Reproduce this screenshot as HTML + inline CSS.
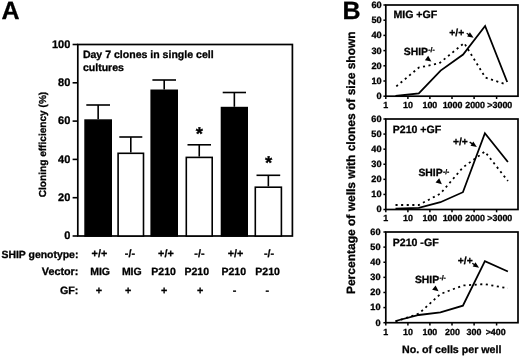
<!DOCTYPE html>
<html lang="en"><head><meta charset="utf-8"><title>Figure</title>
<style>html,body{margin:0;padding:0;background:#fff;}body{width:520px;height:356px;overflow:hidden;}svg{display:block;}svg{filter:grayscale(1);}text{font-family:"Liberation Sans", Arial, Helvetica, sans-serif;font-weight:bold;fill:#000;stroke:#000;stroke-width:0.3px;text-rendering:geometricPrecision;}</style>
</head><body>
<svg width="520" height="356" viewBox="0 0 520 356">
<rect width="520" height="356" fill="#fff"/>
<text x="1.6" y="19.2" font-size="25">A</text>
<rect x="77.80" y="44.50" width="214.60" height="191.50" fill="none" stroke="#000" stroke-width="1.7"/>
<line x1="72.60" y1="236.00" x2="77.80" y2="236.00" stroke="#000" stroke-width="1.6"/>
<text x="70.3" y="239.30" font-size="11" text-anchor="end">0</text>
<line x1="72.60" y1="197.70" x2="77.80" y2="197.70" stroke="#000" stroke-width="1.6"/>
<text x="70.3" y="201.00" font-size="11" text-anchor="end">20</text>
<line x1="72.60" y1="159.40" x2="77.80" y2="159.40" stroke="#000" stroke-width="1.6"/>
<text x="70.3" y="162.70" font-size="11" text-anchor="end">40</text>
<line x1="72.60" y1="121.10" x2="77.80" y2="121.10" stroke="#000" stroke-width="1.6"/>
<text x="70.3" y="124.40" font-size="11" text-anchor="end">60</text>
<line x1="72.60" y1="82.80" x2="77.80" y2="82.80" stroke="#000" stroke-width="1.6"/>
<text x="70.3" y="86.10" font-size="11" text-anchor="end">80</text>
<line x1="72.60" y1="44.50" x2="77.80" y2="44.50" stroke="#000" stroke-width="1.6"/>
<text x="70.3" y="47.80" font-size="11" text-anchor="end">100</text>
<line x1="98.15" y1="105.00" x2="98.15" y2="119.30" stroke="#000" stroke-width="1.6"/>
<line x1="86.30" y1="105.00" x2="110.00" y2="105.00" stroke="#000" stroke-width="1.6"/>
<rect x="85.10" y="120.10" width="26.10" height="115.90" fill="#000" stroke="#000" stroke-width="1.6"/>
<line x1="130.80" y1="137.00" x2="130.80" y2="152.50" stroke="#000" stroke-width="1.6"/>
<line x1="119.30" y1="137.00" x2="142.30" y2="137.00" stroke="#000" stroke-width="1.6"/>
<rect x="118.10" y="153.30" width="25.40" height="82.70" fill="#fff" stroke="#000" stroke-width="1.6"/>
<line x1="164.20" y1="80.00" x2="164.20" y2="89.50" stroke="#000" stroke-width="1.6"/>
<line x1="152.40" y1="80.00" x2="176.00" y2="80.00" stroke="#000" stroke-width="1.6"/>
<rect x="151.20" y="90.30" width="26.00" height="145.70" fill="#000" stroke="#000" stroke-width="1.6"/>
<line x1="199.25" y1="144.80" x2="199.25" y2="156.60" stroke="#000" stroke-width="1.6"/>
<line x1="187.50" y1="144.80" x2="211.00" y2="144.80" stroke="#000" stroke-width="1.6"/>
<rect x="186.30" y="157.40" width="25.90" height="78.60" fill="#fff" stroke="#000" stroke-width="1.6"/>
<line x1="234.35" y1="92.50" x2="234.35" y2="106.80" stroke="#000" stroke-width="1.6"/>
<line x1="222.70" y1="92.50" x2="246.00" y2="92.50" stroke="#000" stroke-width="1.6"/>
<rect x="221.50" y="107.60" width="25.70" height="128.40" fill="#000" stroke="#000" stroke-width="1.6"/>
<line x1="268.35" y1="175.30" x2="268.35" y2="186.40" stroke="#000" stroke-width="1.6"/>
<line x1="256.50" y1="175.30" x2="280.20" y2="175.30" stroke="#000" stroke-width="1.6"/>
<rect x="255.30" y="187.20" width="26.10" height="48.80" fill="#fff" stroke="#000" stroke-width="1.6"/>
<text x="199.4" y="139.6" font-size="18.5" text-anchor="middle">*</text>
<text x="268.5" y="169.4" font-size="18.5" text-anchor="middle">*</text>
<text x="82.9" y="58.4" font-size="10.55">Day 7 clones in single cell</text>
<text x="82.9" y="70.6" font-size="10.55">cultures</text>
<text transform="translate(46.4,144.5) rotate(-90)" font-size="10.1" text-anchor="middle">Cloning efficiency (%)</text>
<text x="78.4" y="258.00" font-size="10.45" text-anchor="end">SHIP genotype:</text>
<text x="99.40" y="257.20" font-size="10.8" text-anchor="middle">+/+</text>
<text x="129.90" y="257.20" font-size="10.8" text-anchor="middle">-/-</text>
<text x="165.90" y="257.20" font-size="10.8" text-anchor="middle">+/+</text>
<text x="199.40" y="257.20" font-size="10.8" text-anchor="middle">-/-</text>
<text x="235.60" y="257.20" font-size="10.8" text-anchor="middle">+/+</text>
<text x="269.10" y="257.20" font-size="10.8" text-anchor="middle">-/-</text>
<text x="78.4" y="275.20" font-size="10.8" text-anchor="end">Vector:</text>
<text x="100.10" y="275.20" font-size="10.5" text-anchor="middle">MIG</text>
<text x="131.80" y="275.20" font-size="10.5" text-anchor="middle">MIG</text>
<text x="163.60" y="275.20" font-size="10.5" text-anchor="middle">P210</text>
<text x="196.80" y="275.20" font-size="10.5" text-anchor="middle">P210</text>
<text x="233.80" y="275.20" font-size="10.5" text-anchor="middle">P210</text>
<text x="267.60" y="275.20" font-size="10.5" text-anchor="middle">P210</text>
<text x="78.4" y="293.60" font-size="10.7" text-anchor="end">GF:</text>
<text x="99.00" y="293.60" font-size="10.8" text-anchor="middle">+</text>
<text x="128.20" y="293.60" font-size="10.8" text-anchor="middle">+</text>
<text x="164.20" y="293.60" font-size="10.8" text-anchor="middle">+</text>
<text x="200.10" y="293.60" font-size="10.8" text-anchor="middle">+</text>
<text x="234.60" y="293.60" font-size="10.8" text-anchor="middle">-</text>
<text x="267.40" y="293.60" font-size="10.8" text-anchor="middle">-</text>
<text x="342.4" y="19.2" font-size="25">B</text>
<text transform="translate(354.8,162.7) rotate(-90)" font-size="12" text-anchor="middle">Percentage of wells with clones of size shown</text>
<rect x="385.80" y="5.00" width="132.20" height="91.20" fill="none" stroke="#000" stroke-width="1.7"/>
<line x1="383.40" y1="96.20" x2="385.80" y2="96.20" stroke="#000" stroke-width="1.5"/>
<text x="381.70" y="99.10" font-size="9.2" text-anchor="end">0</text>
<line x1="383.40" y1="81.00" x2="385.80" y2="81.00" stroke="#000" stroke-width="1.5"/>
<text x="381.70" y="83.90" font-size="9.2" text-anchor="end">10</text>
<line x1="383.40" y1="65.80" x2="385.80" y2="65.80" stroke="#000" stroke-width="1.5"/>
<text x="381.70" y="68.70" font-size="9.2" text-anchor="end">20</text>
<line x1="383.40" y1="50.60" x2="385.80" y2="50.60" stroke="#000" stroke-width="1.5"/>
<text x="381.70" y="53.50" font-size="9.2" text-anchor="end">30</text>
<line x1="383.40" y1="35.40" x2="385.80" y2="35.40" stroke="#000" stroke-width="1.5"/>
<text x="381.70" y="38.30" font-size="9.2" text-anchor="end">40</text>
<line x1="383.40" y1="20.20" x2="385.80" y2="20.20" stroke="#000" stroke-width="1.5"/>
<text x="381.70" y="23.10" font-size="9.2" text-anchor="end">50</text>
<line x1="383.40" y1="5.00" x2="385.80" y2="5.00" stroke="#000" stroke-width="1.5"/>
<text x="381.70" y="7.90" font-size="9.2" text-anchor="end">60</text>
<line x1="385.80" y1="96.20" x2="385.80" y2="99.00" stroke="#000" stroke-width="1.5"/>
<text x="385.70" y="108.20" font-size="8.9" text-anchor="middle">1</text>
<line x1="407.90" y1="96.20" x2="407.90" y2="99.00" stroke="#000" stroke-width="1.5"/>
<text x="407.90" y="108.20" font-size="8.9" text-anchor="middle">10</text>
<line x1="429.90" y1="96.20" x2="429.90" y2="99.00" stroke="#000" stroke-width="1.5"/>
<text x="429.90" y="108.20" font-size="8.9" text-anchor="middle">100</text>
<line x1="452.00" y1="96.20" x2="452.00" y2="99.00" stroke="#000" stroke-width="1.5"/>
<text x="452.50" y="108.20" font-size="8.9" text-anchor="middle">1000</text>
<line x1="474.10" y1="96.20" x2="474.10" y2="99.00" stroke="#000" stroke-width="1.5"/>
<text x="475.10" y="108.20" font-size="8.9" text-anchor="middle">2000</text>
<line x1="496.60" y1="96.20" x2="496.60" y2="99.00" stroke="#000" stroke-width="1.5"/>
<text x="499.80" y="108.20" font-size="8.9" text-anchor="middle">&gt;3000</text>
<polyline fill="none" stroke="#000" stroke-width="1.8" stroke-linejoin="miter" points="395.5,96.0 418.8,93.4 440.6,70.6 463.1,54.6 485.1,26.0 507.2,82.0"/>
<polyline fill="none" stroke="#000" stroke-width="1.8" stroke-dasharray="2.1 3.5" points="396.3,86.4 418.8,67.6 439.3,63.3 464.2,43.0 485.3,77.5 506.8,84.6"/>
<text x="393.40" y="18.10" font-size="10.6">MIG +GF</text>
<text x="403.80" y="54.80" font-size="10.4">SHIP<tspan font-size="6.8" dy="-2.6" dx="0.3">-/-</tspan></text>
<polygon points="431.40,61.50 424.90,60.23 428.20,55.70" fill="#000"/>
<text x="449.30" y="36.00" font-size="10.3">+/+</text>
<line x1="466.70" y1="33.30" x2="469.38" y2="35.01" stroke="#000" stroke-width="1.3"/>
<polygon points="473.60,37.70 467.20,36.58 469.89,32.37" fill="#000"/>
<rect x="385.80" y="119.00" width="132.20" height="90.50" fill="none" stroke="#000" stroke-width="1.7"/>
<line x1="383.40" y1="209.50" x2="385.80" y2="209.50" stroke="#000" stroke-width="1.5"/>
<text x="381.60" y="212.40" font-size="9.2" text-anchor="end">0</text>
<line x1="383.40" y1="194.42" x2="385.80" y2="194.42" stroke="#000" stroke-width="1.5"/>
<text x="381.60" y="197.32" font-size="9.2" text-anchor="end">10</text>
<line x1="383.40" y1="179.33" x2="385.80" y2="179.33" stroke="#000" stroke-width="1.5"/>
<text x="381.60" y="182.23" font-size="9.2" text-anchor="end">20</text>
<line x1="383.40" y1="164.25" x2="385.80" y2="164.25" stroke="#000" stroke-width="1.5"/>
<text x="381.60" y="167.15" font-size="9.2" text-anchor="end">30</text>
<line x1="383.40" y1="149.17" x2="385.80" y2="149.17" stroke="#000" stroke-width="1.5"/>
<text x="381.60" y="152.07" font-size="9.2" text-anchor="end">40</text>
<line x1="383.40" y1="134.08" x2="385.80" y2="134.08" stroke="#000" stroke-width="1.5"/>
<text x="381.60" y="136.98" font-size="9.2" text-anchor="end">50</text>
<line x1="383.40" y1="119.00" x2="385.80" y2="119.00" stroke="#000" stroke-width="1.5"/>
<text x="381.60" y="121.90" font-size="9.2" text-anchor="end">60</text>
<line x1="385.80" y1="209.50" x2="385.80" y2="212.30" stroke="#000" stroke-width="1.5"/>
<text x="385.70" y="221.30" font-size="8.9" text-anchor="middle">1</text>
<line x1="407.90" y1="209.50" x2="407.90" y2="212.30" stroke="#000" stroke-width="1.5"/>
<text x="407.90" y="221.30" font-size="8.9" text-anchor="middle">10</text>
<line x1="429.90" y1="209.50" x2="429.90" y2="212.30" stroke="#000" stroke-width="1.5"/>
<text x="429.90" y="221.30" font-size="8.9" text-anchor="middle">100</text>
<line x1="452.00" y1="209.50" x2="452.00" y2="212.30" stroke="#000" stroke-width="1.5"/>
<text x="452.50" y="221.30" font-size="8.9" text-anchor="middle">1000</text>
<line x1="474.10" y1="209.50" x2="474.10" y2="212.30" stroke="#000" stroke-width="1.5"/>
<text x="475.10" y="221.30" font-size="8.9" text-anchor="middle">2000</text>
<line x1="496.60" y1="209.50" x2="496.60" y2="212.30" stroke="#000" stroke-width="1.5"/>
<text x="499.80" y="221.30" font-size="8.9" text-anchor="middle">&gt;3000</text>
<polyline fill="none" stroke="#000" stroke-width="1.8" stroke-linejoin="miter" points="395.5,208.6 418.8,207.8 440.4,202.2 462.9,192.2 484.9,133.3 507.9,162.0"/>
<polyline fill="none" stroke="#000" stroke-width="1.8" stroke-dasharray="2.1 3.5" points="395.5,205.0 418.8,205.0 440.4,193.6 462.9,167.4 484.9,151.6 507.9,181.0"/>
<text x="392.70" y="133.20" font-size="10.6">P210 +GF</text>
<text x="418.40" y="176.30" font-size="10.4">SHIP<tspan font-size="6.8" dy="-2.6" dx="0.3">-/-</tspan></text>
<polygon points="441.90,184.30 435.54,182.47 439.22,178.25" fill="#000"/>
<text x="453.00" y="144.60" font-size="10.3">+/+</text>
<line x1="469.70" y1="142.10" x2="472.74" y2="144.13" stroke="#000" stroke-width="1.3"/>
<polygon points="476.90,146.90 470.52,145.65 473.29,141.49" fill="#000"/>
<rect x="385.80" y="232.00" width="132.20" height="90.70" fill="none" stroke="#000" stroke-width="1.7"/>
<line x1="383.40" y1="322.70" x2="385.80" y2="322.70" stroke="#000" stroke-width="1.5"/>
<text x="380.60" y="325.60" font-size="9.2" text-anchor="end">0</text>
<line x1="383.40" y1="307.58" x2="385.80" y2="307.58" stroke="#000" stroke-width="1.5"/>
<text x="380.60" y="310.48" font-size="9.2" text-anchor="end">10</text>
<line x1="383.40" y1="292.47" x2="385.80" y2="292.47" stroke="#000" stroke-width="1.5"/>
<text x="380.60" y="295.37" font-size="9.2" text-anchor="end">20</text>
<line x1="383.40" y1="277.35" x2="385.80" y2="277.35" stroke="#000" stroke-width="1.5"/>
<text x="380.60" y="280.25" font-size="9.2" text-anchor="end">30</text>
<line x1="383.40" y1="262.23" x2="385.80" y2="262.23" stroke="#000" stroke-width="1.5"/>
<text x="380.60" y="265.13" font-size="9.2" text-anchor="end">40</text>
<line x1="383.40" y1="247.12" x2="385.80" y2="247.12" stroke="#000" stroke-width="1.5"/>
<text x="380.60" y="250.02" font-size="9.2" text-anchor="end">50</text>
<line x1="383.40" y1="232.00" x2="385.80" y2="232.00" stroke="#000" stroke-width="1.5"/>
<text x="380.60" y="234.90" font-size="9.2" text-anchor="end">60</text>
<line x1="385.80" y1="322.70" x2="385.80" y2="325.50" stroke="#000" stroke-width="1.5"/>
<text x="385.60" y="334.50" font-size="8.9" text-anchor="middle">1</text>
<line x1="407.90" y1="322.70" x2="407.90" y2="325.50" stroke="#000" stroke-width="1.5"/>
<text x="407.90" y="334.50" font-size="8.9" text-anchor="middle">10</text>
<line x1="429.90" y1="322.70" x2="429.90" y2="325.50" stroke="#000" stroke-width="1.5"/>
<text x="429.90" y="334.50" font-size="8.9" text-anchor="middle">100</text>
<line x1="452.00" y1="322.70" x2="452.00" y2="325.50" stroke="#000" stroke-width="1.5"/>
<text x="452.50" y="334.50" font-size="8.9" text-anchor="middle">200</text>
<line x1="474.10" y1="322.70" x2="474.10" y2="325.50" stroke="#000" stroke-width="1.5"/>
<text x="474.00" y="334.50" font-size="8.9" text-anchor="middle">300</text>
<line x1="496.60" y1="322.70" x2="496.60" y2="325.50" stroke="#000" stroke-width="1.5"/>
<text x="495.70" y="334.50" font-size="8.9" text-anchor="middle">&gt;400</text>
<polyline fill="none" stroke="#000" stroke-width="1.8" stroke-linejoin="miter" points="395.5,321.0 418.8,315.0 440.4,312.3 462.9,305.7 484.9,261.1 507.9,271.5"/>
<polyline fill="none" stroke="#000" stroke-width="1.8" stroke-dasharray="2.1 3.5" points="395.5,321.5 418.8,313.7 440.4,294.0 462.9,285.5 484.9,284.1 507.9,288.4"/>
<text x="392.70" y="246.40" font-size="10.6">P210 -GF</text>
<text x="414.90" y="282.90" font-size="10.4">SHIP<tspan font-size="6.8" dy="-2.6" dx="0.3">-/-</tspan></text>
<polygon points="438.60,291.30 432.16,289.77 435.63,285.38" fill="#000"/>
<text x="457.80" y="264.20" font-size="10.3">+/+</text>
<line x1="472.30" y1="263.20" x2="474.93" y2="264.94" stroke="#000" stroke-width="1.3"/>
<polygon points="479.10,267.70 472.72,266.47 475.48,262.30" fill="#000"/>
<text x="451.7" y="352.7" font-size="10.65" text-anchor="middle">No. of cells per well</text>
</svg></body></html>
